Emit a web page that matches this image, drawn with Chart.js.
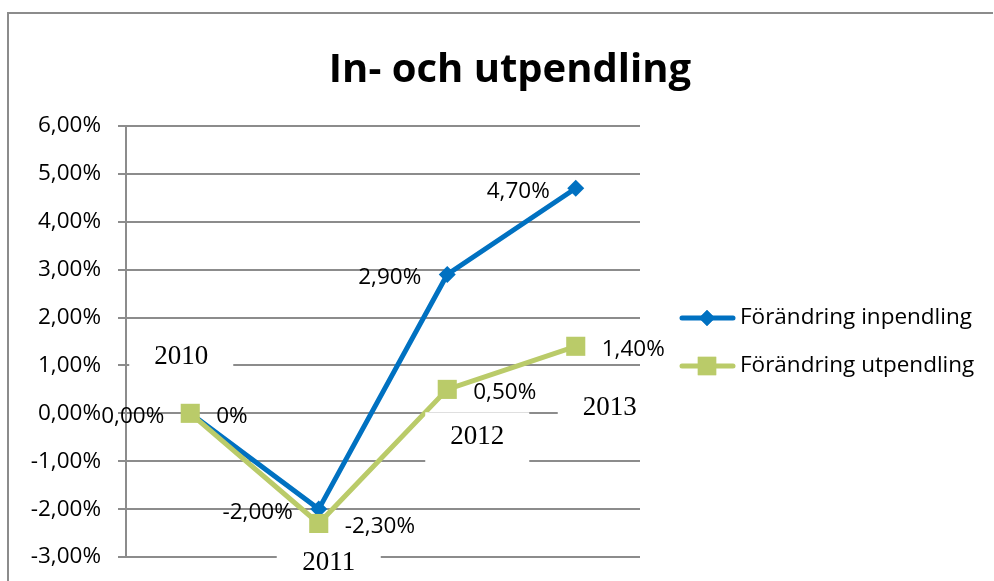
<!DOCTYPE html>
<html><head><meta charset="utf-8">
<script src="https://cdn.jsdelivr.net/npm/chart.js@4/dist/chart.umd.min.js"></script>
<style>html,body{margin:0;padding:0;background:#fff}#wrap{width:994px;height:581px;position:relative}canvas{display:block}</style>
</head><body><div id="wrap"><canvas id="c" width="994" height="581"></canvas></div>
<script>
// ---- data ----
const categories = ['2010', '2011', '2012', '2013'];
const inpendling = [0, -2.0, 2.9, 4.7];
const utpendling = [0, -2.3, 0.5, 1.4];
const inLabels = ['0,00%', '-2,00%', '2,90%', '4,70%'];
const utLabels = ['0%', '-2,30%', '0,50%', '1,40%'];
const seriesNames = ['Förändring inpendling', 'Förändring utpendling'];
const yTickLabels = ['-3,00%', '-2,00%', '-1,00%', '0,00%', '1,00%', '2,00%', '3,00%', '4,00%', '5,00%', '6,00%'];
const titleText = 'In- och utpendling';

// ---- style / layout ----
const BLUE = '#0071C1';
const GREEN = '#BACB69';
const GRID = '#8c8c8c';
const SANS = "'Open Sans', 'Noto Sans', sans-serif";
const SERIF = "'Liberation Serif', 'DejaVu Serif', serif";
const FS = 22.5;
// manually moved category labels: pixel x-shift from category, y position in axis units
const catLabelPlace = [{dx: -9, v: 1.17}, {dx: 10, v: -3.13}, {dx: 30, v: -0.5}, {dx: 34, v: 0.12}];

const decor = {
  id: 'decor',
  beforeDraw(chart) {
    const ctx = chart.ctx;
    ctx.save();
    ctx.strokeStyle = GRID; ctx.lineWidth = 2;
    ctx.beginPath();
    ctx.moveTo(8, 600); ctx.lineTo(8, 13); ctx.lineTo(993, 13);
    ctx.stroke();
    ctx.fillStyle = '#000';
    ctx.font = "bold 40px " + SANS;
    ctx.textAlign = 'center'; ctx.textBaseline = 'alphabetic';
    ctx.fillText(titleText, 510, 82);
    ctx.restore();
  },
  afterDatasetsDraw(chart) {
    const ctx = chart.ctx;
    const xs = chart.scales.x, ys = chart.scales.y;
    ctx.save();
    ctx.font = "27px " + SERIF;
    ctx.textAlign = 'center'; ctx.textBaseline = 'middle';
    categories.forEach((c, i) => {
      const p = catLabelPlace[i];
      const cx = xs.getPixelForValue(i) + p.dx;
      const cy = ys.getPixelForValue(p.v);
      ctx.fillStyle = '#fff';
      ctx.fillRect(cx - 52, cy - 25, 104, 50);
      ctx.fillStyle = '#000';
      ctx.fillText(c, cx, cy);
    });
    ctx.font = FS + "px " + SANS;
    ctx.fillStyle = '#000';
    const m0 = chart.getDatasetMeta(0), m1 = chart.getDatasetMeta(1);
    m0.data.forEach((pt, i) => {
      ctx.textAlign = 'right';
      ctx.fillText(inLabels[i], pt.x - 26, pt.y + 3);
    });
    m1.data.forEach((pt, i) => {
      ctx.textAlign = 'left';
      ctx.fillText(utLabels[i], pt.x + 26, pt.y + 3);
    });
    ctx.restore();
  },
  afterDraw(chart) {
    const ctx = chart.ctx;
    ctx.save();
    const items = [
      {name: seriesNames[0], color: BLUE, style: 'rectRot', r: 8, y: 318},
      {name: seriesNames[1], color: GREEN, style: 'rect', r: 13, y: 366}
    ];
    items.forEach(it => {
      ctx.strokeStyle = it.color; ctx.lineWidth = 5; ctx.lineCap = 'round';
      ctx.beginPath(); ctx.moveTo(682, it.y); ctx.lineTo(733, it.y); ctx.stroke();
      ctx.fillStyle = it.color;
      Chart.helpers.drawPoint(ctx, {pointStyle: it.style, radius: it.r, rotation: 0, borderWidth: 0}, 707, it.y);
      ctx.fill();
      ctx.fillStyle = '#000';
      ctx.font = FS + "px " + SANS;
      ctx.textAlign = 'left'; ctx.textBaseline = 'middle';
      ctx.fillText(it.name, 740, it.y);
    });
    ctx.restore();
  }
};

new Chart(document.getElementById('c'), {
  type: 'line',
  data: {
    labels: categories,
    datasets: [
      {label: seriesNames[0], data: inpendling, borderColor: BLUE, backgroundColor: BLUE, borderWidth: 5,
       pointStyle: 'rectRot', pointRadius: 8.5, pointBorderWidth: 0, pointBackgroundColor: BLUE, tension: 0, order: 1, clip: false},
      {label: seriesNames[1], data: utpendling, borderColor: GREEN, backgroundColor: GREEN, borderWidth: 5,
       pointStyle: 'rect', pointRadius: 13.5, pointBorderWidth: 0, pointBackgroundColor: GREEN, tension: 0, order: 0, clip: false}
    ]
  },
  options: {
    responsive: false,
    animation: false,
    devicePixelRatio: 1,
    layout: {autoPadding: false, padding: {top: 126, bottom: 24, left: 0, right: 354}},
    plugins: {legend: {display: false}, title: {display: false}, tooltip: {enabled: false}},
    scales: {
      x: {
        type: 'category', offset: true, display: false,
        grid: {display: false, drawTicks: false}, border: {display: false},
        ticks: {display: false}
      },
      y: {
        min: -3, max: 6,
        ticks: {stepSize: 1, color: '#000', font: {family: SANS, size: FS}, padding: 17,
                callback: (v) => yTickLabels[Math.round(v) + 3]},
        grid: {color: GRID, lineWidth: 2, tickLength: 8, drawTicks: true},
        border: {display: true, color: GRID, width: 2},
        afterFit(s) { s.width = 126; s.paddingTop = 0; s.paddingBottom = 0; }
      }
    }
  },
  plugins: [decor]
});
</script>
</body></html>
